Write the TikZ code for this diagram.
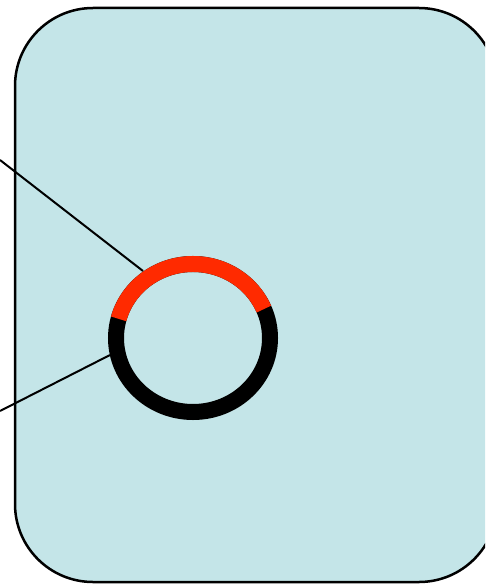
\documentclass[tikz,border=0pt]{standalone}
\usetikzlibrary{positioning}

\definecolor{cellblue}{RGB}{196,229,232}
\definecolor{plasmidred}{RGB}{255,42,0}

\begin{document}
\begin{tikzpicture}[x=1pt, y=-1pt,
    pointer/.style={draw=black, line width=2pt},
    ringline/.style={line width=16pt}]

\useasboundingbox (0,0) rectangle (485,586);
\clip (0,0) rectangle (485,586);

% The cell
\filldraw[fill=cellblue, draw=black, line width=2.5pt, rounded corners=78pt] (15,8) rectangle (497,582);

% Pointer lines from outside
\coordinate (top-from) at (0,160);
\coordinate (top-to) at (143,271);
\coordinate (low-from) at (0,411);
\coordinate (low-to) at (110,355);
\draw[pointer] (top-from) -- (top-to);
\draw[pointer] (low-from) -- (low-to);

% Plasmid ring
\coordinate (ring) at (193,338);
\draw[ringline, black] (ring) ellipse [x radius=77pt, y radius=74pt];
\draw[ringline, plasmidred] ([shift={(23:77pt and 74pt)}]ring) arc [start angle=23, end angle=165, x radius=77pt, y radius=74pt];

\end{tikzpicture}
\end{document}
